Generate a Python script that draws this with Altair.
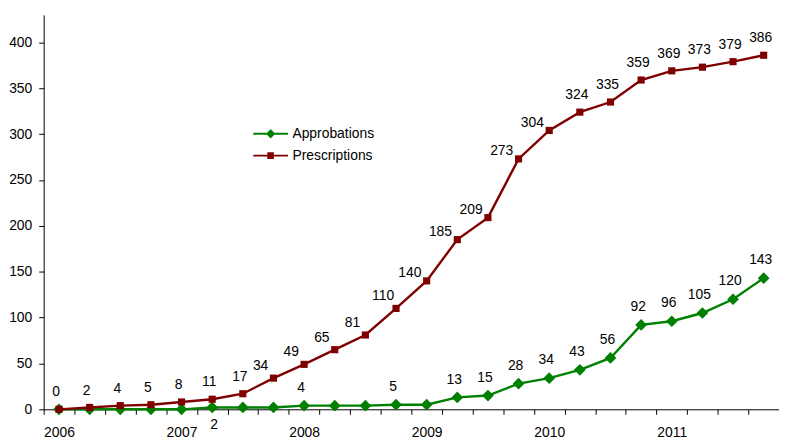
import altair as alt
import pandas as pd

quarters = ["2006-Q1", "2006-Q2", "2006-Q3", "2006-Q4",
            "2007-Q1", "2007-Q2", "2007-Q3", "2007-Q4",
            "2008-Q1", "2008-Q2", "2008-Q3", "2008-Q4",
            "2009-Q1", "2009-Q2", "2009-Q3", "2009-Q4",
            "2010-Q1", "2010-Q2", "2010-Q3", "2010-Q4",
            "2011-Q1", "2011-Q2", "2011-Q3", "2011-Q4"]

series_names = ["Approbations", "Prescriptions"]

approbations = [0, 0, 0, 0, 0, 2, 2, 2, 4, 4, 4, 5, 5, 13, 15, 28, 34, 43, 56, 92, 96, 105, 120, 143]
approbation_labels = ["", "", "", "", "", "2", "", "", "4", "", "", "5", "",
                      "13", "15", "28", "34", "43", "56", "92", "96", "105", "120", "143"]

prescriptions = [0, 2, 4, 5, 8, 11, 17, 34, 49, 65, 81, 110, 140, 185, 209, 273, 304, 324, 335, 359, 369, 373, 379, 386]
prescription_labels = [str(v) for v in prescriptions]

y_ticks = [0, 50, 100, 150, 200, 250, 300, 350, 400]

GREEN = "#008000"
RED = "#800000"
FONT = "Liberation Sans"

rows = []
for q, v, l in zip(quarters, approbations, approbation_labels):
    rows.append({"quarter": q, "series": "Approbations", "value": v, "label": l})
for q, v, l in zip(quarters, prescriptions, prescription_labels):
    rows.append({"quarter": q, "series": "Prescriptions", "value": v, "label": l})
df = pd.DataFrame(rows)

x_enc = alt.X("quarter:O",
              scale=alt.Scale(type="band", domain=quarters, paddingInner=0, paddingOuter=0),
              axis=alt.Axis(title=None, tickBand="extent", tickSize=5, labelPadding=11,
                            labelExpr="test(/Q1/, datum.label) ? slice(datum.label, 0, 4) : ''",
                            labelAngle=0, labelOverlap=False, domainColor="black", tickColor="black",
                            labelColor="black", labelFont=FONT, labelFontSize=14, grid=False))
y_enc = alt.Y("value:Q",
              scale=alt.Scale(domain=[0, 430], nice=False, zero=True),
              axis=alt.Axis(title=None, values=y_ticks, tickSize=5, labelPadding=7, grid=False,
                            domainColor="black", tickColor="black", labelColor="black",
                            labelFont=FONT, labelFontSize=14))

base = alt.Chart(df).encode(x=x_enc, y=y_enc)

appro = base.transform_filter("datum.series == 'Approbations'")
presc = base.transform_filter("datum.series == 'Prescriptions'")

appro_line = appro.mark_line(color=GREEN, strokeWidth=2.4)
appro_pts = appro.mark_point(shape="diamond", size=140, filled=True, color=GREEN, opacity=1)
presc_line = presc.mark_line(color=RED, strokeWidth=2.4)
presc_pts = presc.mark_point(shape="square", size=52, filled=True, color=RED, opacity=1)

txt = dict(font=FONT, fontSize=14, color="black", baseline="middle", align="center")

presc_txt_a = presc.transform_filter("datum.value <= 17 || datum.value >= 324").mark_text(dx=-3, dy=-17, **txt).encode(text="label:N")
presc_txt_b = presc.transform_filter("datum.value >= 34 && datum.value <= 110").mark_text(dx=-13, dy=-12, **txt).encode(text="label:N")
presc_txt_c = presc.transform_filter("datum.value >= 140 && datum.value <= 304").mark_text(dx=-17, dy=-8, **txt).encode(text="label:N")
appro_txt_a = appro.transform_filter("datum.label != '' && datum.value > 2").mark_text(dx=-3, dy=-18, **txt).encode(text="label:N")
appro_txt_b = appro.transform_filter("datum.label != '' && datum.value <= 2").mark_text(dx=2, dy=18, **txt).encode(text="label:N")

# legend symbols: a short line with the series marker on it
path_diamond = "M-2.5,0L2.5,0M0,-0.47L0.47,0L0,0.47L-0.47,0Z"
path_square = "M-2.5,0L2.5,0M-0.33,-0.33L0.33,-0.33L0.33,0.33L-0.33,0.33Z"

leg = alt.Legend(title=None, orient="none", legendX=221, legendY=112, padding=0,
                 labelFont=FONT, labelFontSize=14, labelColor="black",
                 symbolSize=196, symbolStrokeWidth=2, symbolOpacity=1, rowPadding=6, labelOffset=14)

legend_layer = base.transform_filter("false").mark_point(filled=True).encode(
    fill=alt.Fill("series:N", scale=alt.Scale(domain=series_names, range=[GREEN, RED]), legend=leg),
    stroke=alt.Stroke("series:N", scale=alt.Scale(domain=series_names, range=[GREEN, RED]), legend=leg),
    shape=alt.Shape("series:N", scale=alt.Scale(domain=series_names, range=[path_diamond, path_square]), legend=leg),
)

chart = alt.layer(
    appro_line, appro_pts, presc_line, presc_pts,
    appro_txt_a, appro_txt_b, presc_txt_a, presc_txt_b, presc_txt_c,
    legend_layer,
).properties(
    width=742, height=398,
    autosize=alt.AutoSizeParams(type="none"),
    padding={"left": 36, "top": 5, "right": 0, "bottom": 28},
).configure_view(stroke=None)

chart.save("out.html", embed_options={"renderer": "svg", "actions": False})
